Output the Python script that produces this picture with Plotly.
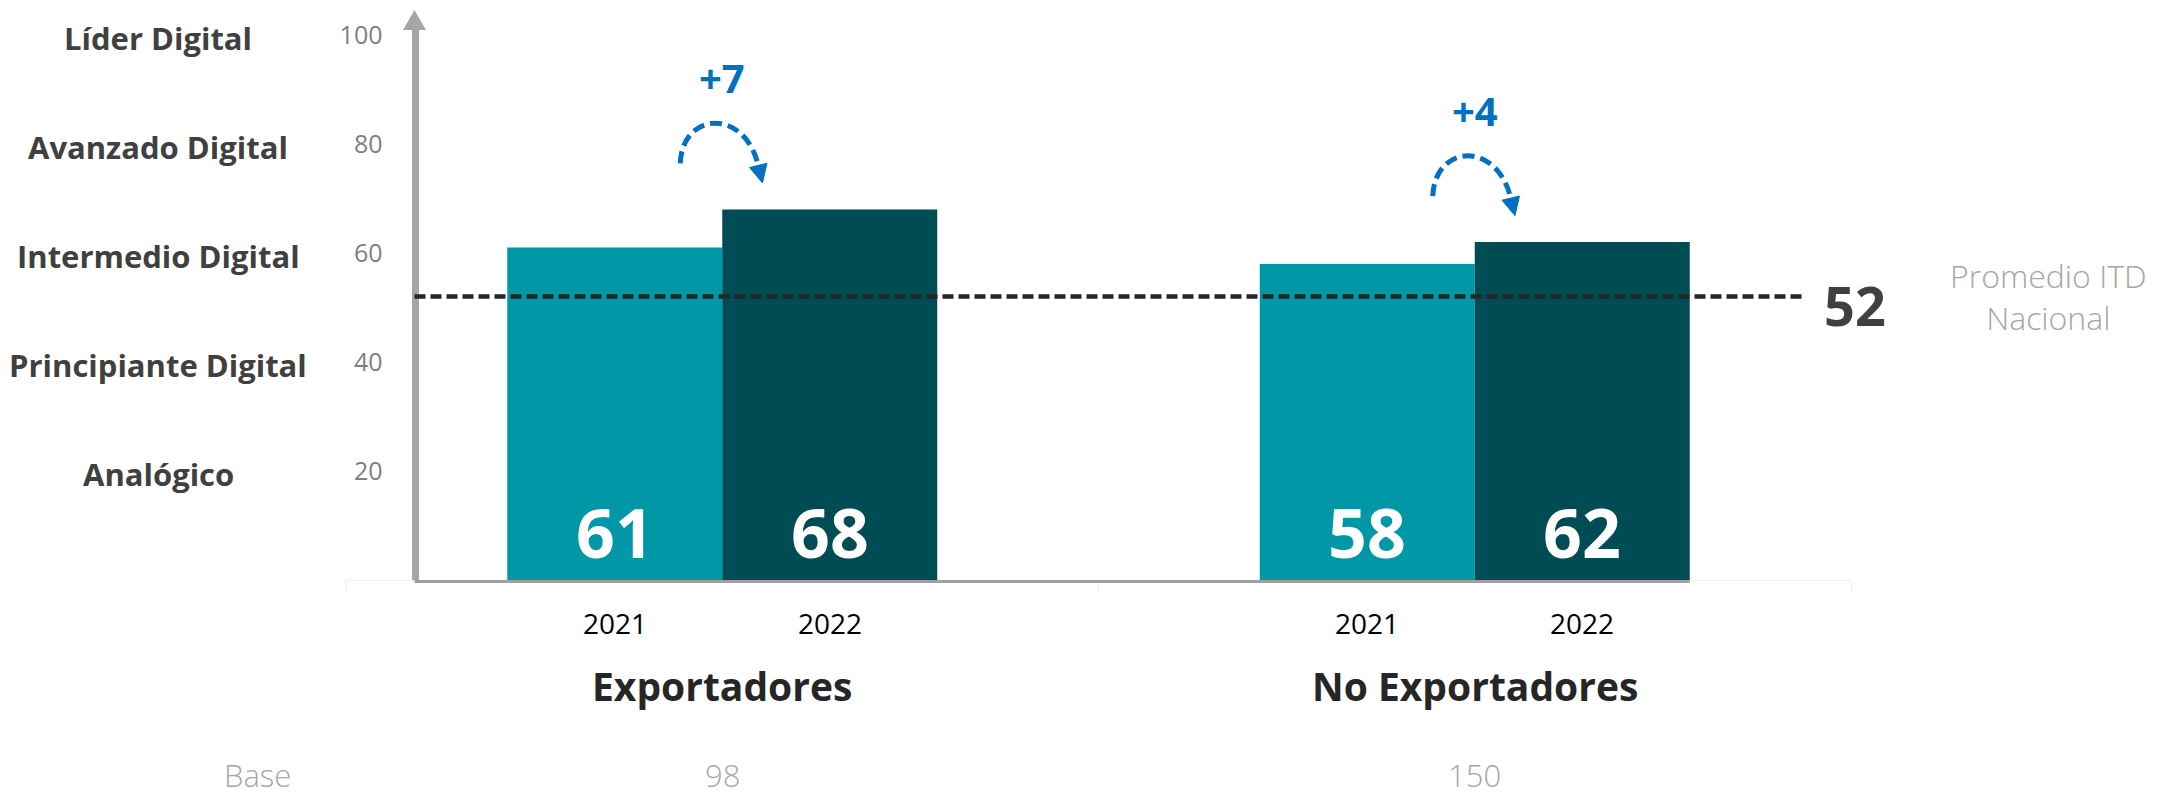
import plotly.graph_objects as go

# data
groups = ["Exportadores", "No Exportadores"]
years = ["2021", "2022"]
itd_2021 = [61, 58]
itd_2022 = [68, 62]
bases = [98, 150]
promedio_nacional = 52
level_names = ["Analógico", "Principiante Digital", "Intermedio Digital", "Avanzado Digital", "Líder Digital"]
level_ticks = [20, 40, 60, 80, 100]

TEAL = "#0097a7"
DARK = "#004c55"
BLUE = "#0070c0"
FONT = "Open Sans, sans-serif"

W, H = 2175, 799
L, R, T, B = 346, 324, 30, 219
PX_PER_UNIT = 5.45
BARGAP = 0.4286
bar_w = (1 - BARGAP) / 2
plot_w = W - L - R
axis_pos = (414.5 - L) / plot_w
y_top = (H - B - T) / PX_PER_UNIT


def px(x):
    # pixel column -> paper fraction
    return (x - L) / plot_w


series = [itd_2021, itd_2022]
colors = [TEAL, DARK]

fig = go.Figure()
for yr, vals, col in zip(years, series, colors):
    fig.add_trace(
        go.Bar(
            x=groups,
            y=vals,
            name=yr,
            marker=dict(color=col, line_width=0),
            hovertemplate="%{x} " + yr + ": %{y}<extra></extra>",
        )
    )

ann = []


def txt(text, size, color, weight=400, **kw):
    kw.setdefault("xanchor", "center")
    kw.setdefault("yanchor", "middle")
    ann.append(
        dict(text=text, showarrow=False, font=dict(family=FONT, size=size, color=color, weight=weight), **kw)
    )


# values inside bars + year labels under them
for j, (yr, vals) in enumerate(zip(years, series)):
    for i, v in enumerate(vals):
        xc = i + (j - 0.5) * bar_w
        txt(str(v), 68, "white", 700, x=xc, y=0, xref="x", yref="y", yshift=49)
        txt(yr, 28, "#000000", 400, x=xc, y=0, xref="x", yref="paper", yshift=-43)

# group names and bases (bases sit on the bottom edge)
for i, g in enumerate(groups):
    txt(g, 39, "#262626", 700, x=i, y=0, xref="x", yref="paper", yshift=-105)
    txt(str(bases[i]), 31, "#a6a6a6", 300, x=i, y=0, xref="x", yref="paper",
        yanchor="bottom", yshift=-B + 1)
txt("Base", 31, "#a6a6a6", 300, x=px(257), y=0, xref="paper", yref="paper",
    yanchor="bottom", yshift=-B + 1)

# maturity levels on the left
for name, tv in zip(level_names, level_ticks):
    txt(name, 31, "#404040", 700, x=px(158), y=tv, xref="paper", yref="y", yshift=-3)

# national average
txt(str(promedio_nacional), 54, "#404040", 700, x=px(1822), y=promedio_nacional,
    xref="paper", yref="y", xanchor="left", yshift=-8)
txt("Promedio ITD<br>Nacional", 32, "#a6a6a6", 300, x=px(2048), y=promedio_nacional,
    xref="paper", yref="y", yshift=0)

shapes = [
    dict(type="line", xref="paper", yref="y", x0=axis_pos, x1=px(1803),
         y0=promedio_nacional, y1=promedio_nacional, line=dict(color="#262626", width=4.5, dash="11px,5px")),
    # y axis arrow head
    dict(type="path", xref="paper", yref="paper", xsizemode="pixel", ysizemode="pixel",
         xanchor=axis_pos, yanchor=1, path="M -11.5,0 L 11.5,0 L 0,20 Z",
         fillcolor="#a6a6a6", line=dict(width=0)),
    # base line under the bars
    dict(type="line", xref="paper", yref="paper", ysizemode="pixel", yanchor=0,
         x0=axis_pos, x1=(1 + bar_w + 0.5) / 2, y0=-1.5, y1=-1.5, line=dict(color="#a0a0a0", width=3)),
]

# change labels with curved arrows
for i, (a, b) in enumerate(zip(itd_2021, itd_2022)):
    txt(f"{b - a:+d}", 40, BLUE, 700, x=i, y=b, xref="x", yref="y", yshift=132)
    shapes.append(dict(type="path", xref="x", yref="y", xsizemode="pixel", ysizemode="pixel",
                       xanchor=i, yanchor=b, path="M -42,46 C -40,98 22,102 36,44",
                       line=dict(color=BLUE, width=5, dash="12px,6px")))
    shapes.append(dict(type="path", xref="x", yref="y", xsizemode="pixel", ysizemode="pixel",
                       xanchor=i, yanchor=b, path="M 44.7,46.1 L 27.3,41.9 L 40.2,26.5 Z",
                       fillcolor=BLUE, line=dict(color=BLUE, width=1)))

fig.update_layout(
    width=W,
    height=H,
    margin=dict(l=L, r=R, t=T, b=B),
    paper_bgcolor="white",
    plot_bgcolor="white",
    showlegend=False,
    barmode="group",
    bargap=BARGAP,
    bargroupgap=0,
    font=dict(family=FONT),
    annotations=ann,
    shapes=shapes,
    xaxis=dict(
        type="category",
        range=[-0.5, 1.5],
        showline=True,
        linecolor="#eeeeee",
        linewidth=1,
        ticks="outside",
        tickson="boundaries",
        ticklen=11,
        tickcolor="#eeeeee",
        showticklabels=False,
        showgrid=False,
        zeroline=False,
    ),
    yaxis=dict(
        range=[0, y_top],
        anchor="free",
        position=axis_pos,
        tickvals=level_ticks,
        showgrid=False,
        zeroline=False,
        showline=True,
        linecolor="#a6a6a6",
        linewidth=7,
        ticks="",
        ticklabelstandoff=24,
        tickfont=dict(family=FONT, size=25, color="#7f7f7f"),
    ),
)

# drop the default body margin so the figure fills the window exactly
fig.write_html(
    "out.html",
    config={"displayModeBar": False},
    post_script="document.body.style.margin = '0';",
)
